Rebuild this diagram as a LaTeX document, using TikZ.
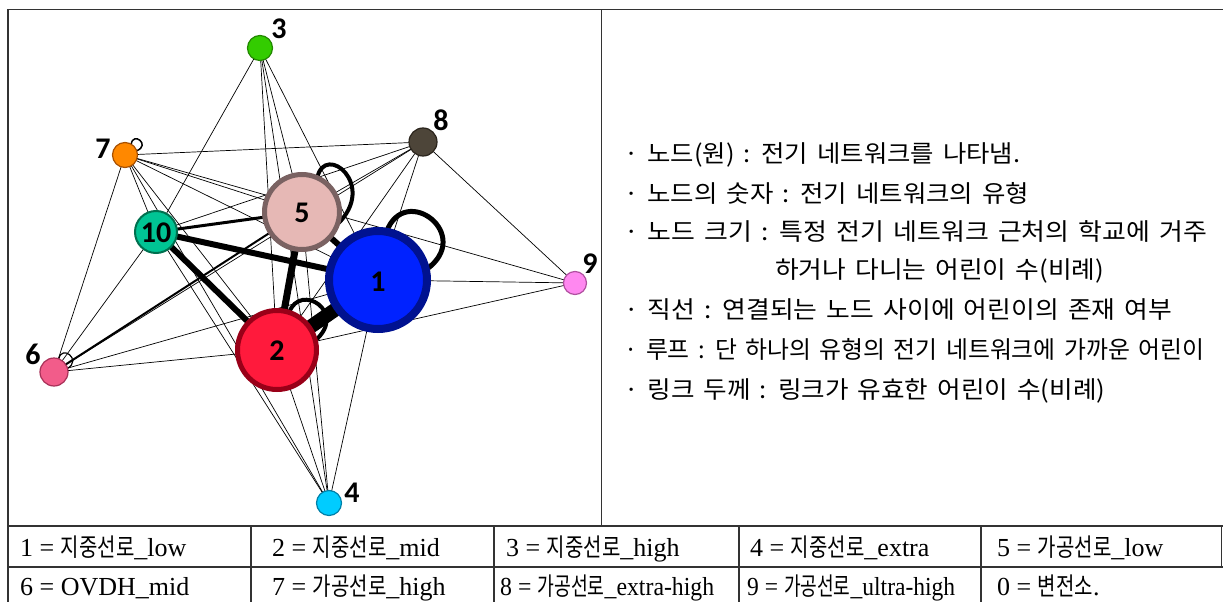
\documentclass[tikz,border=0pt]{standalone}
\usepackage{fontspec}
\usepackage{graphicx}
\setmainfont{Liberation Serif}
\newfontfamily\krfont{Noto Sans CJK KR}
\newfontfamily\tabkrfont[FakeStretch=0.8]{Noto Sans CJK KR}
\newfontfamily\numfont{Carlito}
\newcommand\K[1]{{\tabkrfont\fontsize{25}{25}\selectfont #1}}
\newcommand\legline[2]{\resizebox{#1pt}{\height}{\spaceskip=8.5pt #2}}
\pgfdeclarelayer{bg}
\pgfsetlayers{bg,main}
\definecolor{cOne}{HTML}{0022FF}\definecolor{cOneB}{HTML}{001290}
\definecolor{cTwo}{HTML}{FF1A3C}\definecolor{cTwoB}{HTML}{990018}
\definecolor{cFive}{HTML}{E6B8B5}\definecolor{cFiveB}{HTML}{7A6262}
\definecolor{cTen}{HTML}{00C494}\definecolor{cTenB}{HTML}{00704F}
\definecolor{cThree}{HTML}{33CC00}\definecolor{cThreeB}{HTML}{228800}
\definecolor{cEight}{HTML}{4D4539}\definecolor{cEightB}{HTML}{2A241C}
\definecolor{cSeven}{HTML}{FF8800}\definecolor{cSevenB}{HTML}{A85000}
\definecolor{cNine}{HTML}{FF88F0}\definecolor{cNineB}{HTML}{B050A0}
\definecolor{cSix}{HTML}{F25C8A}\definecolor{cSixB}{HTML}{A83058}
\definecolor{cFour}{HTML}{00CCFF}\definecolor{cFourB}{HTML}{0080A8}
\definecolor{frameC}{HTML}{333333}
\begin{document}
\begin{tikzpicture}[x=1pt,y=-1pt,
  nd/.style={circle,inner sep=0pt,outer sep=0pt},
  edge/.style={draw=black,line width=0.7pt},
  loopline/.style={draw=black},
  numlbl/.style={font=\numfont\bfseries\fontsize{30}{30}\selectfont,inner sep=0pt},
  leg/.style={anchor=base west,inner sep=0pt,font=\krfont\fontsize{24}{24}\selectfont},
  tab/.style={anchor=base west,inner sep=0pt,font=\fontsize{26}{26}\selectfont},
  frame/.style={draw=frameC,line width=1.8pt},
  grid/.style={draw=frameC,line width=1.1pt}]
\useasboundingbox (0,0) rectangle (1223,602);
% frame
\draw[frame] (8,602) -- (8,9.5) -- (1223,9.5);
\draw[grid] (601.5,9.5) -- (601.5,526);
\draw[grid] (8,526) -- (1223,526);
\draw[grid] (8,567) -- (1223,567);
\draw[grid] (1221.5,526) -- (1221.5,567);
\foreach \cx in {251,494,739,981} \draw[grid] (\cx,526) -- (\cx,602);
% nodes
\node[nd,fill=cOne,draw=cOneB,line width=8pt,minimum size=98pt] (n1) at (378,280) {};
\node[nd,fill=cTwo,draw=cTwoB,line width=5pt,minimum size=79pt] (n2) at (277,350) {};
\node[nd,fill=cFive,draw=cFiveB,line width=5pt,minimum size=75pt] (n5) at (302,212) {};
\node[nd,fill=cTen,draw=cTenB,line width=2pt,minimum size=42pt] (n10) at (156,232) {};
\node[nd,fill=cThree,draw=cThreeB,line width=1.2pt,minimum size=25pt] (n3) at (260,48) {};
\node[nd,fill=cEight,draw=cEightB,line width=1.2pt,minimum size=28pt] (n8) at (423,142) {};
\node[nd,fill=cSeven,draw=cSevenB,line width=1.2pt,minimum size=25pt] (n7) at (125,155) {};
\node[nd,fill=cNine,draw=cNineB,line width=1.2pt,minimum size=23pt] (n9) at (575,283) {};
\node[nd,fill=cSix,draw=cSixB,line width=1.2pt,minimum size=28pt] (n6) at (54,372) {};
\node[nd,fill=cFour,draw=cFourB,line width=1.2pt,minimum size=25pt] (n4) at (329,503) {};
% node numbers
\node[numlbl] (t1) at (378,282) {1};
\node[numlbl] (t2) at (277,351) {2};
\node[numlbl] (t5) at (302,213) {5};
\node[numlbl] (t10) at (156,233) {10};
\node[numlbl] (t3) at (279,29) {3};
\node[numlbl] (t8) at (441,120) {8};
\node[numlbl] (t7) at (103,149) {7};
\node[numlbl] (t9) at (590,264) {9};
\node[numlbl] (t6) at (33,354) {6};
\node[numlbl] (t4) at (352,493) {4};
% edges
\begin{pgfonlayer}{bg}
\foreach \a/\b in {n3/n10,n3/n5,n3/n1,n3/n2,n3/n4,
  n7/n8,n7/n10,n7/n5,n7/n1,n7/n2,n7/n6,n7/n4,n7/n9,
  n8/n10,n8/n5,n8/n1,n8/n2,n8/n9,n8/n6,
  n9/n1,n9/n2,n6/n10,n6/n1,n6/n2,
  n4/n2,n4/n5,n4/n1,n4/n10}
  \draw[edge] (\a) -- (\b);
\draw[edge,line width=2pt] (n6) -- (n5);
\draw[edge,line width=3pt] (n10) -- (n5);
\draw[edge,line width=6pt] (n10) -- (n1);
\draw[edge,line width=6pt] (n10) -- (n2);
\draw[edge,line width=6pt] (n5) -- (n1);
\draw[edge,line width=7pt] (n5) -- (n2);
% loops
\draw[loopline,line width=5pt] (n1.80) .. controls (405,182) and (475,235) .. (n1.12);
\draw[loopline,line width=4pt] (n5.66) .. controls (325,142) and (378,185) .. (n5.-19);
\draw[loopline,line width=4pt] (n2.72) .. controls (300,282) and (348,312) .. (n2.14);
\draw[loopline,line width=1.5pt] (n7.60) .. controls (133,131) and (151,145) .. (n7.20);
\draw[loopline,line width=1.2pt] (n6.70) .. controls (62,344) and (82,360) .. (n6.15);
\draw[edge,line width=14pt] (n1) -- (n2);
\end{pgfonlayer}
% legend
\node[leg] (g1) at (624,162) {\legline{396}{· 노드(원) : 전기 네트워크를 나타냄.}};
\node[leg] (g2) at (624,202) {\legline{405}{· 노드의 숫자 : 전기 네트워크의 유형}};
\node[leg] (g3) at (624,240) {\legline{583}{· 노드 크기 : 특정 전기 네트워크 근처의 학교에 거주}};
\node[leg] (g4) at (775,278) {\legline{329}{하거나 다니는 어린이 수(비례)}};
\node[leg] (g5) at (624,318) {\legline{548}{· 직선 : 연결되는 노드 사이에 어린이의 존재 여부}};
\node[leg] (g6) at (624,358) {\legline{580}{· 루프 : 단 하나의 유형의 전기 네트워크에 가까운 어린이}};
\node[leg] (g7) at (624,398) {\legline{481}{· 링크 두께 : 링크가 유효한 어린이 수(비례)}};
% table
\node[tab] (c11) at (20,556) {1 = \K{지중선로}\_low};
\node[tab] (c12) at (272,556) {2 = \K{지중선로}\_mid};
\node[tab] (c13) at (506,556) {3 = \K{지중선로}\_high};
\node[tab] (c14) at (750,556) {4 = \K{지중선로}\_extra};
\node[tab] (c15) at (997,556) {5 = \K{가공선로}\_low};
\node[tab] (c21) at (20,595) {6 = OVDH\_mid};
\node[tab] (c22) at (272,595) {7 = \K{가공선로}\_high};
\node[tab] (c23) at (500,595) {\resizebox{214pt}{\height}{8 = \K{가공선로}\_extra-high}};
\node[tab] (c24) at (747,595) {\resizebox{208pt}{\height}{9 = \K{가공선로}\_ultra-high}};
\node[tab] (c25) at (997,595) {0 = \K{변전소}.};
\end{tikzpicture}
\end{document}
